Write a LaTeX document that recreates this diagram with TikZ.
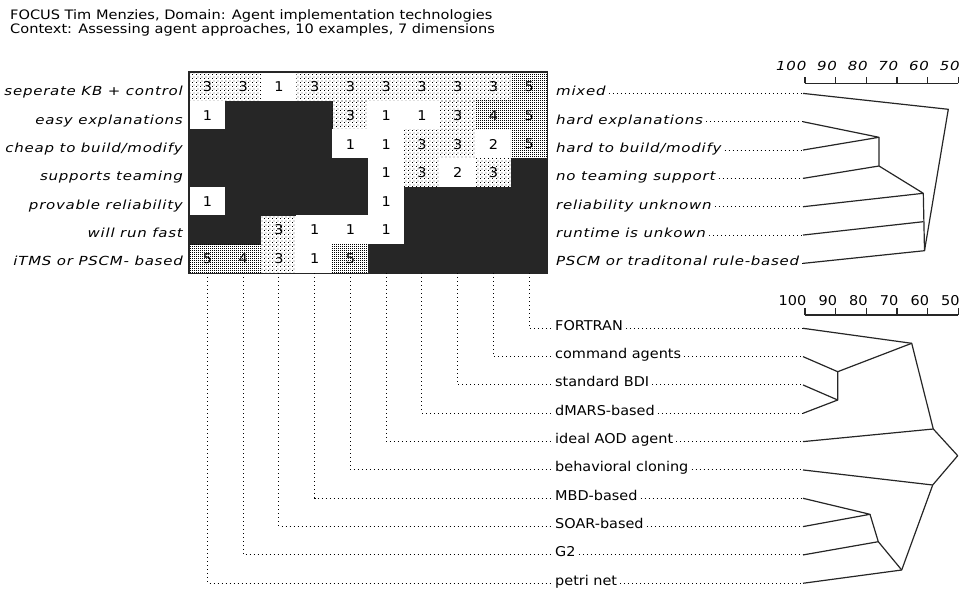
\documentclass[tikz,border=0pt]{standalone}
\usepackage{fontspec}
\newfontfamily\genh[FakeStretch=1.12]{DejaVu Sans}
\newfontfamily\genb[FakeStretch=1.07]{DejaVu Sans}
\newfontfamily\geni[FakeStretch=1.2,LetterSpace=6]{DejaVu Sans}
\usetikzlibrary{patterns}
\pgfdeclarepatternformonly{sparsedots}{\pgfqpoint{0pt}{0pt}}{\pgfqpoint{4pt}{4pt}}{\pgfqpoint{4pt}{4pt}}{%
  \pgfpathrectangle{\pgfqpoint{0pt}{0pt}}{\pgfqpoint{1pt}{1pt}}%
  \pgfpathrectangle{\pgfqpoint{2pt}{2pt}}{\pgfqpoint{1pt}{1pt}}%
  \pgfusepath{fill}}
\pgfdeclarepatternformonly{densedots}{\pgfqpoint{0pt}{0pt}}{\pgfqpoint{2pt}{2pt}}{\pgfqpoint{2pt}{2pt}}{%
  \pgfpathrectangle{\pgfqpoint{0pt}{0pt}}{\pgfqpoint{1.1pt}{1.1pt}}%
  \pgfusepath{fill}}
\begin{document}
\begin{tikzpicture}[x=1pt,y=-1pt,
  txt/.style={font=\genb\fontsize{13.5}{15}\selectfont, inner sep=0pt},
  itxt/.style={font=\geni\itshape\fontsize{12.5}{14}\selectfont, inner sep=0pt},
  hdr/.style={font=\genh\fontsize{13}{15}\selectfont, inner sep=0pt, anchor=base west},
  cell/.style={minimum width=36.3pt, minimum height=29.2pt, inner sep=0pt, font=\genb\fontsize{13.5}{15}\selectfont},
  shw/.style={fill=white}, shd/.style={pattern=sparsedots}, shm/.style={pattern=densedots}, shb/.style={fill=black!85},
  dotline/.style={line width=1pt, dash pattern=on 1pt off 3pt, black},
  sol/.style={line width=1.2pt, black!85, line join=round},
  axis/.style={line width=1.1pt, black!85}]
\useasboundingbox (0,0) rectangle (962,591);

% header
\node[hdr] (h1) at (10,19.3) {FOCUS Tim Menzies, Domain: Agent implementation technologies};
\node[hdr] (h2) at (10,33.3) {Context: Assessing agent approaches, 10 examples, 7 dimensions};

% grid cells
\foreach \r/\vals in {
 1/{shd/3,shd/3,shw/1,shd/3,shd/3,shd/3,shd/3,shd/3,shd/3,shm/5},
 2/{shw/1,shb/{},shb/{},shb/{},shd/3,shw/1,shw/1,shd/3,shm/4,shm/5},
 3/{shb/{},shb/{},shb/{},shb/{},shw/1,shw/1,shd/3,shd/3,shw/2,shm/5},
 4/{shb/{},shb/{},shb/{},shb/{},shb/{},shw/1,shd/3,shw/2,shd/3,shb/{}},
 5/{shw/1,shb/{},shb/{},shb/{},shb/{},shw/1,shb/{},shb/{},shb/{},shb/{}},
 6/{shb/{},shb/{},shd/3,shw/1,shw/1,shw/1,shb/{},shb/{},shb/{},shb/{}},
 7/{shm/5,shm/4,shd/3,shw/1,shm/5,shb/{},shb/{},shb/{},shb/{},shb/{}}} {
  \foreach \s/\t [count=\c] in \vals {
    \node[cell,\s] (c\r-\c) at ({189.5+35.75*(\c-0.5)}, {72.5+28.64*(\r-0.5)}) {\t};
  }
}
\draw[line width=1.2pt, black!85] (c1-1.north west) rectangle (c7-10.south east);

% left labels
\foreach \t [count=\i] in {seperate KB + control, easy explanations, {cheap to build/modify}, supports teaming, provable reliability, will run fast, iTMS or PSCM- based} {
  \node[itxt, anchor=base east] (L\i) at (183, {95.8+28.33*(\i-1)}) {\t};
}

% right labels with leaders
\foreach \t [count=\i] in {mixed, hard explanations, {hard to build/modify}, no teaming support, reliability unknown, runtime is unkown, PSCM or traditonal rule-based} {
  \node[itxt, anchor=base west] (R\i) at (556, {95.8+28.33*(\i-1)}) {\t};
  \coordinate (RE\i) at (803, {93.4+28.33*(\i-1)});
  \draw[dotline] (R\i.east |- RE\i) ++(3,0) -- (RE\i);
}

% top scale
\foreach \v [count=\j from 0] in {100,90,80,70,60,50} {
  \pgfmathsetmacro\tx{805+30.66*\j}
  \node[itxt, anchor=base east] (tn\j) at (\tx+1.5, 70.5) {\v};
  \coordinate (tt\j) at (\tx, 83.3);
  \draw[axis] (tt\j) -- ++(0,-6.6);
}
\draw[axis] (tt0) -- (tt5);

% top dendrogram
\coordinate (T1) at (948.3,109.3);
\coordinate (T2) at (879,137.3);
\coordinate (T3) at (879,166);
\coordinate (T4) at (923.3,193.3);
\coordinate (T5) at (923.3,221.7);
\coordinate (T6) at (924.5,250.7);
\draw[sol] (RE1) -- (T1) -- (T6);
\draw[sol] (RE2) -- (T2) -- (RE3);
\draw[sol] (T2) -- (T3) -- (RE4);
\draw[sol] (T3) -- (T4) -- (RE5);
\draw[sol] (T4) -- (T6) -- (RE7);
\draw[sol] (T5) -- (RE6);

% bottom labels
\foreach \t [count=\k from 0] in {FORTRAN, command agents, standard BDI, dMARS-based, ideal AOD agent, behavioral cloning, MBD-based, SOAR-based, G2, petri net} {
  \pgfmathsetmacro\cc{int(10-\k)}
  \pgfmathsetmacro\yy{328.3+28.33*\k}
  \node[txt, anchor=base west] (BL\k) at (555, \yy+2) {\t};
  \coordinate (BW\k) at (552, \yy);
  \coordinate (BE\k) at (803, \yy);
  \draw[dotline] (c7-\cc.south) |- (BW\k);
  \draw[dotline] (BL\k.east |- BE\k) ++(3,0) -- (BE\k);
}

% bottom scale
\foreach \v [count=\j from 0] in {100,90,80,70,60,50} {
  \pgfmathsetmacro\tx{805+30.66*\j}
  \node[txt, anchor=base east] (bn\j) at (\tx+1.5, 305.5) {\v};
  \coordinate (bt\j) at (\tx, 315);
  \draw[axis] (bt\j) -- ++(0,-7);
}
\draw[axis] (bt0) -- (bt5);

% bottom dendrogram
\coordinate (B1) at (911.7,343.3);
\coordinate (B2) at (837.7,371.7);
\coordinate (B3) at (837.7,400);
\coordinate (B4) at (933.3,429);
\coordinate (B5) at (957.7,455.7);
\coordinate (B6) at (932.7,485);
\coordinate (B7) at (870,514.3);
\coordinate (B8) at (878.3,541.7);
\coordinate (B9) at (901.7,570);
\draw[sol] (BE0) -- (B1) -- (B4) -- (B5) -- (B6) -- (B9) -- (BE9);
\draw[sol] (BE1) -- (B2) -- (B1);
\draw[sol] (B2) -- (B3) -- (BE2);
\draw[sol] (B3) -- (BE3);
\draw[sol] (BE4) -- (B4);
\draw[sol] (BE5) -- (B6);
\draw[sol] (BE6) -- (B7) -- (BE7);
\draw[sol] (B7) -- (B8) -- (BE8);
\draw[sol] (B8) -- (B9);
\end{tikzpicture}
\end{document}
